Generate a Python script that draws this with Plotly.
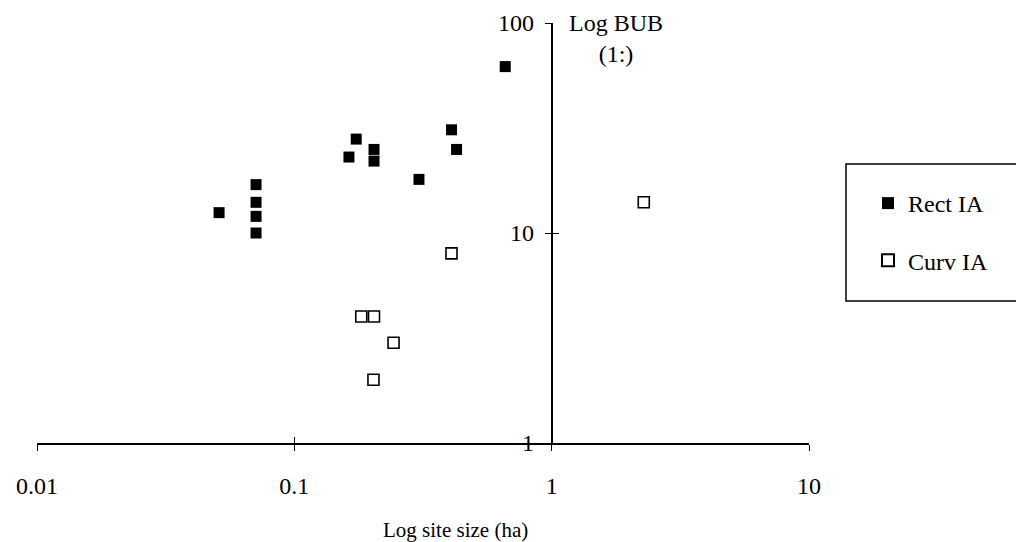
import plotly.graph_objects as go

# ---- data ----
rect_size = [0.051, 0.071, 0.071, 0.071, 0.071, 0.174, 0.163, 0.204, 0.204, 0.305, 0.408, 0.427, 0.66]
rect_bub = [12.5, 17, 14, 12, 10, 28, 23, 25, 22, 18, 31, 25, 62]
curv_size = [0.408, 0.182, 0.204, 0.243, 0.203, 2.28]
curv_bub = [8, 4, 4, 3, 2, 14]

x_ticks = [0.01, 0.1, 1, 10]
x_ticktext = ["0.01", "0.1", "1", "10"]
y_ticks = [1, 10, 100]
y_ticktext = ["1", "10", "100"]

FONT = "Liberation Serif"
W, H = 1016, 542
ML, MR, MT, MB = 37, 207, 23, 99
PW, PH = W - ML - MR, H - MT - MB

def px2paper_x(px):
    return (px - ML) / PW

def px2paper_y(py):
    return (H - MB - py) / PH

fig = go.Figure()
fig.add_trace(go.Scatter(
    x=rect_size, y=rect_bub, mode="markers", name="Rect IA", legendgroup="a",
    marker=dict(symbol="square", size=11, color="black"),
))
fig.add_trace(go.Scatter(
    x=curv_size, y=curv_bub, mode="markers", name="Curv IA", legendgroup="b",
    marker=dict(symbol="square-open", size=11, color="black", line=dict(width=1.6, color="black")),
))
# invisible trace on the overlay axes so their (crossing) ticks render
fig.add_trace(go.Scatter(x=[1], y=[1], xaxis="x2", yaxis="y2", mode="markers",
                         marker=dict(opacity=0), showlegend=False, hoverinfo="skip"))

axis_common = dict(showgrid=False, zeroline=False, linecolor="black", tickcolor="black",
                   tickwidth=1.2, ticklen=6)

fig.update_layout(
    width=W, height=H,
    margin=dict(l=ML, r=MR, t=MT, b=MB, autoexpand=False),
    paper_bgcolor="white", plot_bgcolor="white",
    font=dict(family=FONT, size=24, color="black"),
    xaxis=dict(type="log", range=[-2, 1], showline=True, linewidth=1.5, ticks="outside",
               tickvals=x_ticks, ticktext=x_ticktext, ticklabelstandoff=14,
               tickfont=dict(family=FONT, size=24), **axis_common),
    xaxis2=dict(type="log", range=[-2, 1], overlaying="x", anchor="y", side="bottom",
                showline=False, ticks="inside", tickvals=x_ticks, showticklabels=False,
                **axis_common),
    yaxis=dict(type="log", range=[0, 2], anchor="free", position=2 / 3, side="left",
               showline=True, linewidth=1.5, ticks="outside",
               tickvals=y_ticks, ticktext=y_ticktext, ticklabelstandoff=6,
               tickfont=dict(family=FONT, size=24), **axis_common),
    yaxis2=dict(type="log", range=[0, 2], overlaying="y", anchor="free", position=2 / 3,
                side="left", showline=False, ticks="inside", tickvals=y_ticks,
                showticklabels=False, **axis_common),
    showlegend=True,
    legend=dict(x=px2paper_x(868), y=px2paper_y(181), xanchor="left", yanchor="top",
                bgcolor="rgba(0,0,0,0)", borderwidth=0, tracegroupgap=23,
                font=dict(family=FONT, size=24), itemsizing="constant"),
    shapes=[dict(type="rect", xref="paper", yref="paper",
                 x0=px2paper_x(846), x1=px2paper_x(1030),
                 y0=px2paper_y(301), y1=px2paper_y(164),
                 line=dict(color="black", width=1.5), fillcolor="rgba(0,0,0,0)")],
    annotations=[
        dict(text="Log BUB<br>(1:)", xref="paper", yref="paper",
             x=px2paper_x(616), y=px2paper_y(8), xanchor="center", yanchor="top",
             showarrow=False, font=dict(family=FONT, size=24)),
        dict(text="Log site size (ha)", xref="paper", yref="paper",
             x=px2paper_x(455), y=px2paper_y(530), xanchor="center", yanchor="middle",
             showarrow=False, font=dict(family=FONT, size=21)),
    ],
)

fig.write_html("out.html", config={"displayModeBar": False},
               post_script="document.body.style.margin='0';document.body.style.overflow='hidden';")
